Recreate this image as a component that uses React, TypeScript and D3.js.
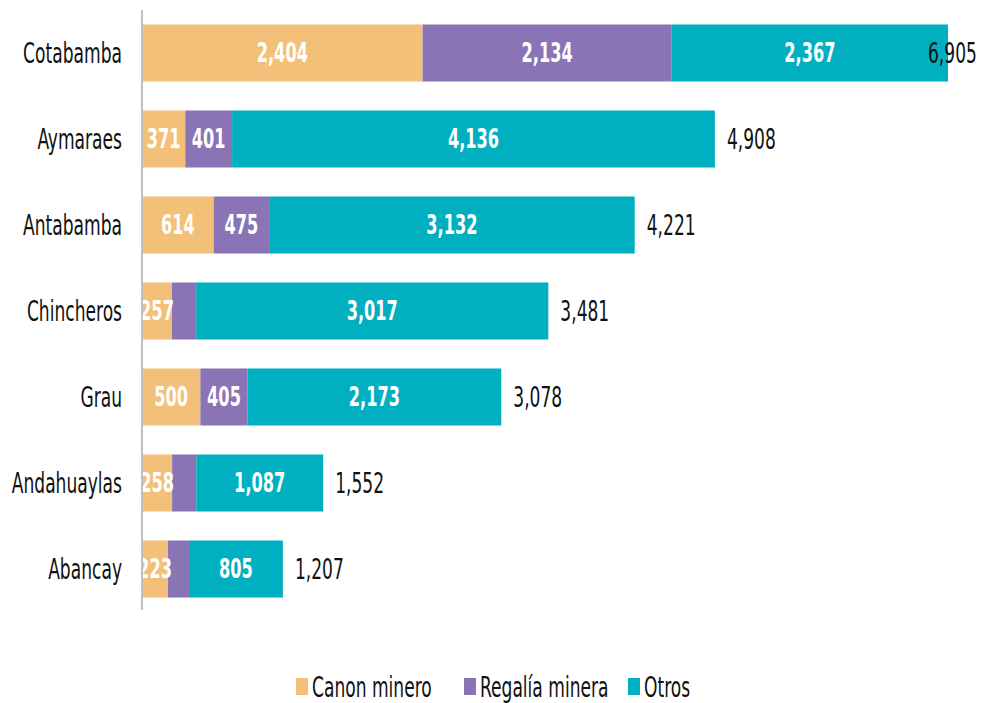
import React from "react";
import * as d3 from "d3";

const categories = ["Cotabamba", "Aymaraes", "Antabamba", "Chincheros", "Grau", "Andahuaylas", "Abancay"];
const canonMinero = [2404, 371, 614, 257, 500, 258, 223];
const regaliaMinera = [2134, 401, 475, 207, 405, 207, 179];
const otros = [2367, 4136, 3132, 3017, 2173, 1087, 805];
const totals = [6905, 4908, 4221, 3481, 3078, 1552, 1207];

const seriesNames = ["Canon minero", "Regalía minera", "Otros"];
const seriesColors = ["#F2C078", "#8B74B5", "#00AFC0"];

const W = 984;
const H = 703;
const FONT = "'Liberation Sans Narrow', 'DejaVu Sans Condensed', 'Arial Narrow', sans-serif";
const SY = 1.5;

function T(props: { x: number; y: number; size: number; anchor?: string; fill?: string; weight?: string | number; children: React.ReactNode }) {
  const { x, y, size, anchor = "start", fill = "#111", weight = "normal", children } = props;
  return (
    <text
      transform={`translate(${x},${y}) scale(1,${SY})`}
      dy="0.35em"
      fontFamily={FONT}
      fontSize={size}
      textAnchor={anchor}
      fill={fill}
      fontWeight={weight}
    >
      {children}
    </text>
  );
}

export default function App() {
  const x0 = 142;
  const x = d3.scaleLinear().domain([0, d3.max(totals) as number]).range([x0, 948]);
  const y = d3.scaleBand<string>().domain(categories).range([10, 612]).paddingInner(0.337).paddingOuter(0.1685);
  const rows = categories.map((c, i) => ({ c, vals: [canonMinero[i], regaliaMinera[i], otros[i]], total: totals[i] }));
  const stack = d3.stack<any>().keys(["0", "1", "2"])(rows.map((r) => ({ "0": r.vals[0], "1": r.vals[1], "2": r.vals[2] })) as any);
  const bw = y.bandwidth();
  const fmt = d3.format(",");

  const legendItems = [
    { name: seriesNames[0], x: 296 },
    { name: seriesNames[1], x: 464 },
    { name: seriesNames[2], x: 628 },
  ];

  return (
    <svg width={W} height={H} style={{ position: "absolute", left: 0, top: 0, background: "#fff" }}>
      <defs>
        <clipPath id="plot">
          <rect x={x0} y={0} width={W - x0} height={640} />
        </clipPath>
      </defs>
      <rect width={W} height={H} fill="#fff" />
      <g>
        {stack.map((layer, si) =>
          layer.map((d, i) => (
            <rect
              key={`${si}-${i}`}
              x={x(d[0])}
              y={y(categories[i])}
              width={x(d[1]) - x(d[0])}
              height={bw}
              fill={seriesColors[si]}
            />
          ))
        )}
      </g>
      <g clipPath="url(#plot)">
        {stack.map((layer, si) =>
          layer.map((d, i) => {
            const v = d[1] - d[0];
            const w = x(d[1]) - x(d[0]);
            if (w < 25) return null;
            return (
              <T key={`l${si}-${i}`} x={(x(d[0]) + x(d[1])) / 2} y={(y(categories[i]) as number) + bw / 2} size={18} anchor="middle" fill="#fff" weight="bold">
                {fmt(v)}
              </T>
            );
          })
        )}
      </g>
      <line x1={x0} x2={x0} y1={10} y2={610} stroke="#BFBFBF" strokeWidth={2} />
      {rows.map((r, i) => (
        <T key={`c${i}`} x={122} y={(y(r.c) as number) + bw / 2} size={19} anchor="end">
          {r.c}
        </T>
      ))}
      {rows.map((r, i) => (
        <T key={`t${i}`} x={Math.min(x(r.total) + 12, 928)} y={(y(r.c) as number) + bw / 2} size={19}>
          {fmt(r.total)}
        </T>
      ))}
      {legendItems.map((it, i) => (
        <g key={`lg${i}`}>
          <rect x={it.x} y={678} width={12} height={17} fill={seriesColors[i]} />
          <T x={it.x + 16} y={687} size={19}>
            {it.name}
          </T>
        </g>
      ))}
    </svg>
  );
}
